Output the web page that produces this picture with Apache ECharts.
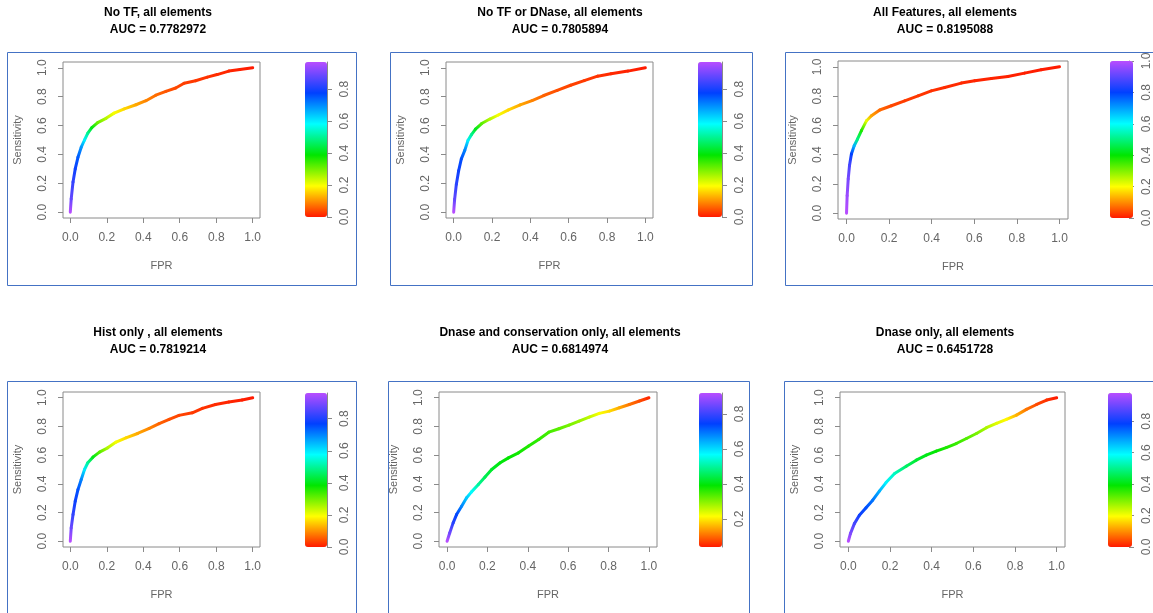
<!DOCTYPE html>
<html>
<head>
<meta charset="utf-8">
<script src="https://cdn.jsdelivr.net/npm/echarts@6/dist/echarts.min.js"></script>
<style>
  html, body { margin: 0; padding: 0; background: #fff; }
  #chart { width: 1153px; height: 613px; }
</style>
</head>
<body>
<div id="chart"></div>
<script>
// ROC curves: FPR, sensitivity and the cutoff at each point
const titles = [
    'No TF, all elements',
    'No TF or DNase, all elements',
    'All Features, all elements',
    'Hist only , all elements',
    'Dnase and conservation only, all elements',
    'Dnase only, all elements'
];
const aucs = ['0.7782972', '0.7805894', '0.8195088', '0.7819214', '0.6814974', '0.6451728'];

const fprNoTF = [0, 0.005, 0.015, 0.027, 0.042, 0.06, 0.078, 0.096, 0.118, 0.15, 0.196, 0.24, 0.296, 0.36, 0.415, 0.469, 0.524, 0.578, 0.624, 0.687, 0.751, 0.805, 0.869, 0.93, 1];
const tprNoTF = [0, 0.093, 0.21, 0.30, 0.38, 0.45, 0.50, 0.547, 0.586, 0.62, 0.65, 0.686, 0.716, 0.744, 0.772, 0.81, 0.837, 0.86, 0.893, 0.91, 0.935, 0.953, 0.977, 0.988, 1];
const cutNoTF = [0.97, 0.88, 0.83, 0.79, 0.75, 0.69, 0.6, 0.5, 0.4, 0.31, 0.25, 0.2, 0.16, 0.12, 0.09, 0.07, 0.05, 0.04, 0.03, 0.025, 0.02, 0.015, 0.01, 0.005, 0];

const fprNoDnase = [0, 0.005, 0.014, 0.026, 0.04, 0.058, 0.075, 0.093, 0.114, 0.146, 0.189, 0.233, 0.286, 0.347, 0.409, 0.47, 0.54, 0.61, 0.681, 0.751, 0.821, 0.909, 1];
const tprNoDnase = [0, 0.089, 0.194, 0.287, 0.369, 0.428, 0.498, 0.537, 0.575, 0.614, 0.645, 0.673, 0.708, 0.743, 0.773, 0.808, 0.843, 0.879, 0.911, 0.942, 0.958, 0.977, 1];
const cutNoDnase = [0.97, 0.88, 0.82, 0.79, 0.76, 0.71, 0.6, 0.5, 0.41, 0.32, 0.25, 0.2, 0.16, 0.12, 0.09, 0.06, 0.045, 0.035, 0.027, 0.02, 0.013, 0.007, 0];

const fprAll = [0, 0.003, 0.008, 0.014, 0.023, 0.036, 0.052, 0.07, 0.094, 0.117, 0.156, 0.211, 0.273, 0.336, 0.398, 0.461, 0.539, 0.602, 0.68, 0.758, 0.836, 0.914, 1];
const tprAll = [0, 0.12, 0.234, 0.325, 0.405, 0.461, 0.507, 0.564, 0.632, 0.666, 0.705, 0.734, 0.768, 0.802, 0.836, 0.859, 0.889, 0.905, 0.92, 0.934, 0.957, 0.98, 1];
const cutAll = [1.0, 0.97, 0.93, 0.88, 0.8, 0.68, 0.5, 0.38, 0.22, 0.12, 0.07, 0.04, 0.03, 0.025, 0.02, 0.016, 0.013, 0.01, 0.008, 0.006, 0.004, 0.002, 0];

const fprHist = [0, 0.005, 0.015, 0.027, 0.042, 0.06, 0.078, 0.096, 0.124, 0.16, 0.205, 0.251, 0.305, 0.369, 0.433, 0.487, 0.542, 0.596, 0.669, 0.724, 0.796, 0.869, 0.942, 1];
const tprHist = [0, 0.093, 0.186, 0.279, 0.36, 0.43, 0.5, 0.547, 0.586, 0.621, 0.651, 0.691, 0.721, 0.751, 0.786, 0.819, 0.849, 0.877, 0.895, 0.926, 0.953, 0.97, 0.984, 1];
const cutHist = [0.96, 0.88, 0.82, 0.78, 0.75, 0.7, 0.6, 0.5, 0.4, 0.32, 0.25, 0.2, 0.16, 0.12, 0.09, 0.06, 0.045, 0.035, 0.027, 0.02, 0.014, 0.009, 0.004, 0];

const fprDnaseCons = [0, 0.013, 0.03, 0.047, 0.072, 0.096, 0.121, 0.155, 0.188, 0.221, 0.263, 0.304, 0.354, 0.404, 0.454, 0.504, 0.554, 0.604, 0.654, 0.704, 0.754, 0.804, 0.854, 0.903, 0.953, 1];
const tprDnaseCons = [0, 0.058, 0.128, 0.186, 0.244, 0.302, 0.344, 0.395, 0.447, 0.5, 0.547, 0.581, 0.616, 0.663, 0.709, 0.76, 0.784, 0.809, 0.837, 0.865, 0.891, 0.907, 0.93, 0.953, 0.977, 1];
const cutDnaseCons = [0.92, 0.85, 0.78, 0.74, 0.68, 0.62, 0.57, 0.5, 0.45, 0.42, 0.4, 0.39, 0.38, 0.37, 0.36, 0.345, 0.33, 0.31, 0.29, 0.26, 0.22, 0.19, 0.15, 0.11, 0.08, 0.05];

const fprDnase = [0, 0.01, 0.029, 0.053, 0.085, 0.117, 0.149, 0.181, 0.222, 0.278, 0.326, 0.374, 0.422, 0.47, 0.518, 0.567, 0.615, 0.663, 0.711, 0.759, 0.807, 0.855, 0.904, 0.952, 1];
const tprDnase = [0, 0.053, 0.123, 0.181, 0.233, 0.286, 0.349, 0.409, 0.472, 0.523, 0.565, 0.6, 0.628, 0.653, 0.681, 0.716, 0.751, 0.791, 0.821, 0.849, 0.879, 0.919, 0.953, 0.984, 1];
const cutDnase = [0.98, 0.92, 0.86, 0.8, 0.77, 0.73, 0.67, 0.6, 0.54, 0.47, 0.43, 0.41, 0.39, 0.37, 0.35, 0.33, 0.3, 0.26, 0.22, 0.19, 0.13, 0.08, 0.04, 0.02, 0];

// cutoff range shown on each colour bar
const cutMin = [0, 0, 0, 0, 0.04, 0];
const cutMax = [0.97, 0.97, 1.0, 0.96, 0.92, 0.98];
const barTicks = [0, 0.2, 0.4, 0.6, 0.8, 1.0];
const axisTicks = [0, 0.2, 0.4, 0.6, 0.8, 1.0];

const curves = [
    [fprNoTF, tprNoTF, cutNoTF],
    [fprNoDnase, tprNoDnase, cutNoDnase],
    [fprAll, tprAll, cutAll],
    [fprHist, tprHist, cutHist],
    [fprDnaseCons, tprDnaseCons, cutDnaseCons],
    [fprDnase, tprDnase, cutDnase]
];

// page layout: outer frame, title centre, plot box and colour bar per panel
const layout = [
    { frame: [7.5, 52.5, 349, 233], tx: 158, ty: 4, plot: [63, 62, 197, 156], bar: [305, 62, 22, 155] },
    { frame: [390.5, 52.5, 362, 233], tx: 560, ty: 4, plot: [446, 62, 207, 156], bar: [698, 62, 24, 155] },
    { frame: [785.5, 52.5, 400, 233], tx: 945, ty: 4, plot: [838, 61, 230, 158], bar: [1110, 61, 23, 157] },
    { frame: [7.5, 381.5, 349, 260], tx: 158, ty: 324, plot: [63, 392, 197, 155], bar: [305, 393, 22, 154] },
    { frame: [388.5, 381.5, 361, 260], tx: 560, ty: 324, plot: [439, 392, 218, 155], bar: [699, 393, 23, 154] },
    { frame: [784.5, 381.5, 400, 260], tx: 945, ty: 324, plot: [840, 392, 225, 155], bar: [1108, 393, 24, 154] }
];

const palette = ['#ff1a00', '#ffff00', '#00e600', '#00ffff', '#0040ff', '#b84dff'];
const axisGray = '#8a8a8a';
const labelGray = '#666';
const font = 'Liberation Sans';

// one short line per pair of points, shaded between the two cutoff colours
function renderSegment(params, api) {
    const i = params.dataIndexInside;
    if (i >= params.dataInsideLength - 1) return null;
    const a = api.coord([api.value(0, i), api.value(1, i)]);
    const b = api.coord([api.value(0, i + 1), api.value(1, i + 1)]);
    return {
        type: 'line',
        shape: { x1: a[0], y1: a[1], x2: b[0], y2: b[1] },
        style: {
            stroke: new echarts.graphic.LinearGradient(a[0], a[1], b[0], b[1], [
                { offset: 0, color: api.visual('color', i) },
                { offset: 1, color: api.visual('color', i + 1) }
            ], true),
            lineWidth: 3,
            lineCap: 'round'
        }
    };
}

const chart = echarts.init(document.getElementById('chart'));
const option = {
    animation: false,
    backgroundColor: '#fff',
    title: [],
    grid: [],
    xAxis: [],
    yAxis: [],
    visualMap: [],
    series: [],
    graphic: []
};

curves.forEach((c, k) => {
    const L = layout[k];
    const g = k * 2;

    option.graphic.push({
        type: 'rect', silent: true, z: -1,
        shape: { x: L.frame[0], y: L.frame[1], width: L.frame[2], height: L.frame[3] },
        style: { fill: null, stroke: '#4472c4', lineWidth: 1 }
    });

    option.title.push({
        text: titles[k] + '\nAUC = ' + aucs[k],
        left: L.tx, top: L.ty, textAlign: 'center', padding: 0,
        textStyle: { fontFamily: font, fontSize: 12, fontWeight: 'bold', color: '#000', lineHeight: 17 }
    });

    // ROC plot
    option.grid.push({
        left: L.plot[0], top: L.plot[1], width: L.plot[2], height: L.plot[3],
        show: true, borderColor: axisGray, borderWidth: 1, backgroundColor: 'transparent'
    });
    option.xAxis.push({
        type: 'value', gridIndex: g, min: -0.04, max: 1.04,
        name: 'FPR', nameLocation: 'middle', nameGap: 42,
        nameTextStyle: { fontFamily: font, fontSize: 11, color: labelGray },
        axisLine: { show: false, onZero: false },
        splitLine: { show: false },
        axisTick: { show: true, length: 5, customValues: axisTicks, lineStyle: { color: axisGray } },
        axisLabel: {
            customValues: axisTicks, margin: 14,
            fontFamily: font, fontSize: 12, color: labelGray,
            formatter: v => v.toFixed(1)
        }
    });
    option.yAxis.push({
        type: 'value', gridIndex: g, min: -0.04, max: 1.04,
        name: 'Sensitivity', nameLocation: 'middle', nameGap: 40,
        nameTextStyle: { fontFamily: font, fontSize: 11, color: labelGray },
        axisLine: { show: false, onZero: false },
        splitLine: { show: false },
        axisTick: { show: true, length: 5, customValues: axisTicks, lineStyle: { color: axisGray } },
        axisLabel: {
            customValues: axisTicks, margin: 14, rotate: 90,
            fontFamily: font, fontSize: 12, color: labelGray,
            formatter: v => v.toFixed(1)
        }
    });

    // colour bar axis
    const ticks = barTicks.filter(v => v >= cutMin[k] - 1e-9 && v <= cutMax[k] + 1e-9);
    option.grid.push({
        left: L.bar[0], top: L.bar[1], width: L.bar[2], height: L.bar[3], show: false
    });
    option.xAxis.push({ type: 'value', gridIndex: g + 1, show: false, min: 0, max: 1 });
    option.yAxis.push({
        type: 'value', gridIndex: g + 1, position: 'right',
        min: cutMin[k], max: cutMax[k],
        axisLine: { show: true, onZero: false, lineStyle: { color: axisGray } },
        splitLine: { show: false },
        axisTick: { show: true, length: 5, customValues: ticks, lineStyle: { color: axisGray } },
        axisLabel: {
            customValues: ticks, margin: 12, rotate: 90,
            fontFamily: font, fontSize: 12, color: labelGray,
            formatter: v => v.toFixed(1)
        }
    });

    option.visualMap.push({
        type: 'continuous', seriesIndex: k, dimension: 2,
        min: cutMin[k], max: cutMax[k],
        orient: 'vertical', left: L.bar[0], top: L.bar[1],
        itemWidth: L.bar[2], itemHeight: L.bar[3],
        padding: 0, calculable: false, hoverLink: false,
        inRange: { color: palette }
    });

    const data = c[0].map((x, i) => [x, c[1][i], c[2][i]]);
    option.series.push({
        type: 'custom', xAxisIndex: g, yAxisIndex: g,
        dimensions: ['fpr', 'tpr', 'cutoff'],
        encode: { x: 0, y: 1 },
        renderItem: renderSegment,
        silent: true,
        data: data
    });
});

chart.setOption(option);
</script>
</body>
</html>
